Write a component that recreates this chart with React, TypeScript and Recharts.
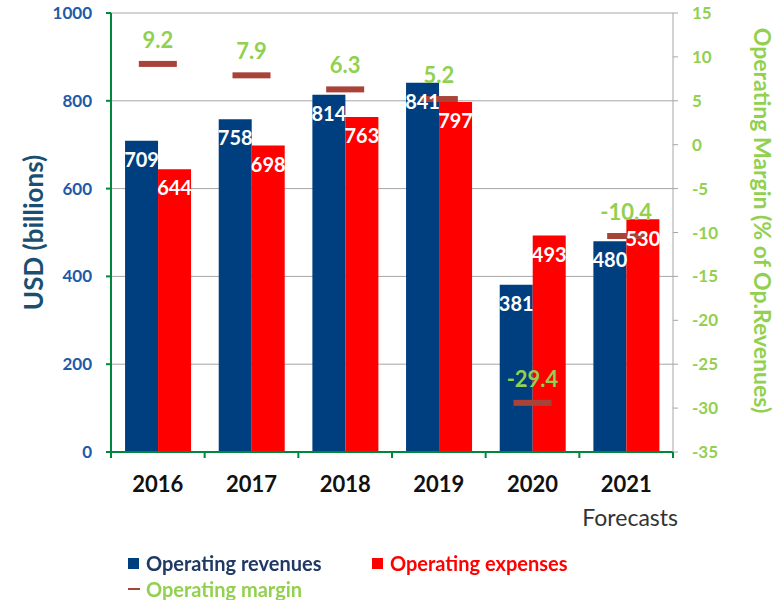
import React from "react";
import {
    ComposedChart,
    Bar,
    Line,
    XAxis,
    YAxis,
    CartesianGrid,
    LabelList,
} from "recharts";

const years = ["2016", "2017", "2018", "2019", "2020", "2021"];
const revenues = [709, 758, 814, 841, 381, 480];
const expenses = [644, 698, 763, 797, 493, 530];
const margins = [9.2, 7.9, 6.3, 5.2, -29.4, -10.4];
const usdTicks = [0, 200, 400, 600, 800, 1000];
const marginTicks = [-35, -30, -25, -20, -15, -10, -5, 0, 5, 10, 15];

const data = years.map((year, i) => ({
    year,
    revenues: revenues[i],
    expenses: expenses[i],
    margin: margins[i],
}));

const BLUE = "#003f7f";
const RED = "#ff0000";
const GREEN = "#92d050";
const AXIS_GREEN = "#00873c";
const DASH = "#a8433a";
const GRID = "#a6a6a6";
const FONT = "Lato, 'Open Sans', sans-serif";

function YearTick(props: any) {
    const { x, y, payload, index, width } = props;
    const half = payload?.offset ?? width / years.length / 2;
    const last = index === years.length - 1;
    return (
        <g>
            <line x1={x - half} x2={x - half} y1={y} y2={y + 6} stroke={AXIS_GREEN} strokeWidth={2} />
            {last && <line x1={x + half} x2={x + half} y1={y} y2={y + 6} stroke={AXIS_GREEN} strokeWidth={2} />}
            <text x={x} y={y + 40} textAnchor="middle" fontSize={22} fontWeight="bold" fill="#111">
                {payload.value}
            </text>
            {last && (
                <text x={x + 4} y={y + 74} textAnchor="middle" fontSize={23} fill="#333">
                    Forecasts
                </text>
            )}
        </g>
    );
}

function MarginDash(props: any) {
    const { cx, cy } = props;
    if (cx == null || cy == null) return null;
    return <rect x={cx - 19} y={cy - 3} width={38} height={6} fill={DASH} />;
}

function LeftTitle(props: any) {
    const { viewBox } = props;
    const cx = viewBox.x + 33;
    const cy = viewBox.y + viewBox.height / 2;
    return (
        <text x={cx} y={cy} transform={`rotate(-90 ${cx} ${cy})`} textAnchor="middle" dominantBaseline="central"
            fontSize={26} fontWeight="bold" fill="#1b4f72">
            USD (billions)
        </text>
    );
}

function RightTitle(props: any) {
    const { viewBox } = props;
    const cx = viewBox.x + 90;
    const cy = viewBox.y + viewBox.height / 2 - 12;
    return (
        <text x={cx} y={cy} transform={`rotate(90 ${cx} ${cy})`} textAnchor="middle" dominantBaseline="central"
            fontSize={23} fontWeight="bold" fill={GREEN}>
            Operating Margin (% of Op.Revenues)
        </text>
    );
}

export default function App() {
    return (
        <div style={{ position: "fixed", left: 0, top: 0, width: 782, height: 600, fontFamily: FONT, background: "#fff" }}>
            <ComposedChart
                width={782}
                height={600}
                data={data}
                margin={{ top: 13, right: 0, bottom: 108, left: 0 }}
                barCategoryGap="15%"
                barGap={0}
            >
                <CartesianGrid yAxisId="usd" vertical={false} stroke={GRID} />
                <XAxis
                    dataKey="year"
                    height={40}
                    axisLine={{ stroke: AXIS_GREEN, strokeWidth: 2 }}
                    tickLine={false}
                    tickSize={0}
                    tickMargin={0}
                    tick={<YearTick />}
                    interval={0}
                />
                <YAxis
                    yAxisId="usd"
                    width={111}
                    domain={[0, 1000]}
                    ticks={usdTicks}
                    axisLine={{ stroke: AXIS_GREEN, strokeWidth: 2 }}
                    tickLine={{ stroke: AXIS_GREEN, strokeWidth: 2 }}
                    tickSize={5}
                    tickMargin={14}
                    tick={{ fill: "#1e5aa8", fontSize: 17, fontWeight: "bold" }}
                    label={{ content: <LeftTitle /> }}
                />
                <YAxis
                    yAxisId="margin"
                    orientation="right"
                    width={109}
                    domain={[-35, 15]}
                    ticks={marginTicks}
                    axisLine={{ stroke: GRID }}
                    tickLine={{ stroke: GRID }}
                    tickSize={5}
                    tickMargin={14}
                    tick={{ fill: GREEN, fontSize: 17, fontWeight: "bold", textAnchor: "start" }}
                    label={{ content: <RightTitle /> }}
                />
                <Bar yAxisId="usd" dataKey="revenues" name="Operating revenues" fill={BLUE} isAnimationActive={false}>
                    <LabelList dataKey="revenues" position="insideTop" offset={12} fill="#fff" fontSize={20} fontWeight="bold" />
                </Bar>
                <Bar yAxisId="usd" dataKey="expenses" name="Operating expenses" fill={RED} isAnimationActive={false}>
                    <LabelList dataKey="expenses" position="insideTop" offset={12} fill="#fff" fontSize={20} fontWeight="bold" />
                </Bar>
                <Line
                    yAxisId="margin"
                    dataKey="margin"
                    name="Operating margin"
                    stroke="none"
                    dot={<MarginDash />}
                    activeDot={false}
                    isAnimationActive={false}
                >
                    <LabelList dataKey="margin" position="top" offset={16} fill={GREEN} fontSize={22} fontWeight="bold" />
                </Line>
            </ComposedChart>

            <div style={{ position: "absolute", left: 128, top: 551, fontSize: 20, fontWeight: "bold", lineHeight: "24px" }}>
                <div style={{ display: "flex", alignItems: "center" }}>
                    <span style={{ display: "inline-block", width: 11, height: 11, background: BLUE, marginRight: 7 }} />
                    <span style={{ color: "#1f3864", width: 226 }}>Operating revenues</span>
                    <span style={{ display: "inline-block", width: 11, height: 11, background: RED, marginRight: 7 }} />
                    <span style={{ color: RED }}>Operating expenses</span>
                </div>
                <div style={{ display: "flex", alignItems: "center", marginTop: 2 }}>
                    <span style={{ display: "inline-block", width: 12, height: 2, background: DASH, marginRight: 6 }} />
                    <span style={{ color: GREEN }}>Operating margin</span>
                </div>
            </div>
        </div>
    );
}
